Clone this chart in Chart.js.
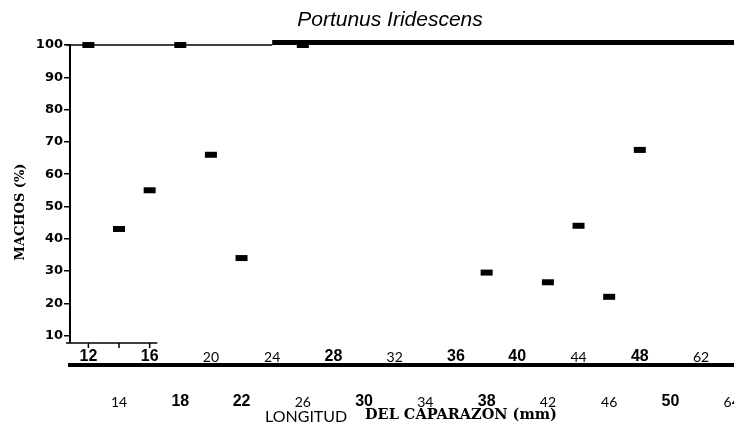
<!DOCTYPE html>
<html>
<head>
<meta charset="utf-8">
<title>Portunus Iridescens</title>
<script src="https://cdn.jsdelivr.net/npm/chart.js@4"></script>
<style>
  html, body { margin: 0; padding: 0; background: #fff; }
  canvas { display: block; }
</style>
</head>
<body>
<canvas id="chart" width="734" height="434"></canvas>
<script>
/* Portunus iridescens - % machos por talla */

// datos
var LONGITUD = [12, 14, 16, 18, 20, 22, 26, 38, 42, 44, 46, 48];
var MACHOS = [100, 43, 55, 100, 66, 34, 100, 29.5, 26.5, 44, 22, 67.5];

// marcas del eje x (dos filas)
var TOP_TICKS = [12, 16, 20, 24, 28, 32, 36, 40, 44, 48, 52];
var TOP_LABELS = ['12', '16', '20', '24', '28', '32', '36', '40', '44', '48', '62'];
var BOTTOM_TICKS = [14, 18, 22, 26, 30, 34, 38, 42, 46, 50, 54];
var BOTTOM_LABELS = ['14', '18', '22', '26', '30', '34', '38', '42', '46', '50', '64'];
var Y_TICKS = [10, 20, 30, 40, 50, 60, 70, 80, 90, 100];

// etiquetas impresas en negrita
var BOLD_LABELS = ['12', '16', '28', '36', '40', '48', '18', '22', '30', '38', '50'];

var X_MIN = 10.8;
var X_MAX = 54.15;

function tickFont(ctx) {
  var label = ctx.tick ? ctx.tick.label : '';
  if (BOLD_LABELS.indexOf(label) >= 0) {
    return { family: "'Liberation Sans', Arial, sans-serif", size: 16, weight: 'bold', lineHeight: 1.2 };
  }
  return { family: "Lato, 'Open Sans', sans-serif", size: 14, weight: 'normal', lineHeight: 1.5 };
}

function noSidePadding(scale) {
  scale.paddingLeft = 0;
  scale.paddingRight = 0;
}

// lineas del marco y textos
var frame = {
  id: 'frame',
  beforeDatasetsDraw: function (chart) {
    var c = chart.ctx;
    var x = chart.scales.x;
    var y = chart.scales.y;
    var area = chart.chartArea;
    var yTop = y.getPixelForValue(100);
    var xSplit = x.getPixelForValue(24);

    c.save();
    c.strokeStyle = '#000';
    c.fillStyle = '#000';

    // linea superior: fina y luego gruesa
    c.lineWidth = 1.5;
    c.beginPath();
    c.moveTo(area.left - 4, yTop);
    c.lineTo(xSplit, yTop);
    c.stroke();
    c.fillRect(xSplit, yTop - 5, area.right - xSplit, 5);

    // tramo corto del eje x original
    var yb = area.bottom + 1;
    c.beginPath();
    c.moveTo(area.left - 4, yb);
    c.lineTo(x.getPixelForValue(16.5), yb);
    [12, 14, 16].forEach(function (v) {
      var px = x.getPixelForValue(v);
      c.moveTo(px, yb);
      c.lineTo(px, yb + 5);
    });
    c.stroke();
    c.restore();
  },
  afterDraw: function (chart) {
    var c = chart.ctx;
    c.save();
    c.fillStyle = '#000';

    // titulo
    c.font = "italic 21px 'Liberation Sans', Arial, sans-serif";
    c.textAlign = 'center';
    c.textBaseline = 'alphabetic';
    c.fillText('Portunus Iridescens', 390, 26);

    // titulo eje y
    c.save();
    c.translate(21, 212);
    c.rotate(-Math.PI / 2);
    c.font = "bold 13px 'DejaVu Serif', 'Liberation Serif', serif";
    c.textAlign = 'center';
    c.textBaseline = 'middle';
    c.fillText('MACHOS (%)', 0, 0);
    c.restore();

    // titulo eje x
    c.textAlign = 'left';
    c.font = "16px Lato, 'Open Sans', sans-serif";
    c.fillText('LONGITUD', 265, 422);
    c.font = "bold 14.5px 'DejaVu Serif', 'Liberation Serif', serif";
    c.fillText('DEL CAPARAZON (mm)', 365, 419);
    c.restore();
  }
};

new Chart(document.getElementById('chart'), {
  type: 'scatter',
  data: {
    datasets: [{
      data: LONGITUD.map(function (l, i) { return { x: l, y: MACHOS[i] }; }),
      pointStyle: 'line',
      pointRadius: 6,
      pointHoverRadius: 6,
      pointBorderWidth: 6,
      borderColor: '#000',
      backgroundColor: '#000',
      clip: false
    }]
  },
  options: {
    responsive: false,
    animation: false,
    events: [],
    layout: { autoPadding: false, padding: { top: 45, left: 0, right: 0, bottom: 0 } },
    plugins: {
      legend: { display: false },
      tooltip: { enabled: false },
      title: { display: false }
    },
    scales: {
      x: {
        type: 'linear',
        position: 'bottom',
        min: X_MIN,
        max: X_MAX,
        afterBuildTicks: function (s) {
          s.ticks = TOP_TICKS.map(function (v) { return { value: v }; });
        },
        afterFit: function (s) { s.height = 23; noSidePadding(s); },
        grid: { display: false, drawTicks: false },
        border: { display: false },
        ticks: {
          padding: 5,
          color: '#000',
          maxRotation: 0,
          autoSkip: false,
          font: tickFont,
          callback: function (v, i) { return TOP_LABELS[i]; }
        }
      },
      x2: {
        type: 'linear',
        position: 'bottom',
        min: X_MIN,
        max: X_MAX,
        afterBuildTicks: function (s) {
          s.ticks = BOTTOM_TICKS.map(function (v) { return { value: v }; });
        },
        afterFit: function (s) { s.height = 69; noSidePadding(s); },
        grid: { display: false, drawTicks: false },
        border: { display: true, color: '#000', width: 4 },
        ticks: {
          padding: 27,
          color: '#000',
          maxRotation: 0,
          autoSkip: false,
          font: tickFont,
          callback: function (v, i) { return BOTTOM_LABELS[i]; }
        }
      },
      y: {
        type: 'linear',
        min: 8,
        max: 100,
        afterBuildTicks: function (s) {
          s.ticks = Y_TICKS.map(function (v) { return { value: v }; });
        },
        afterFit: function (s) { s.width = 70; },
        grid: {
          display: true,
          drawOnChartArea: false,
          drawTicks: true,
          tickLength: 6,
          color: '#000',
          lineWidth: 1.5
        },
        border: { display: true, color: '#000', width: 2 },
        ticks: {
          padding: 1,
          color: '#000',
          font: { family: "'DejaVu Sans', sans-serif", size: 13, weight: 'bold' },
          callback: function (v) { return String(v); }
        }
      }
    }
  },
  plugins: [frame]
});
</script>
</body>
</html>
